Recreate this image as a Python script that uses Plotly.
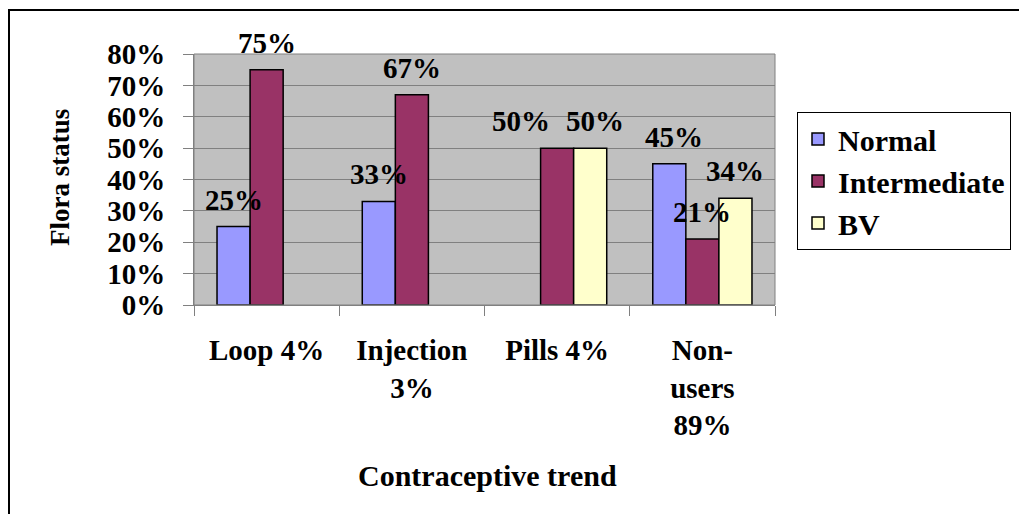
import plotly.graph_objects as go

categories = ["Loop 4%", "Injection<br>3%", "Pills 4%", "Non-<br>users<br>89%"]
normal = [0.25, 0.33, None, 0.45]
intermediate = [0.75, 0.67, 0.50, 0.21]
bv = [None, None, 0.50, 0.34]
series_names = ["Normal", "Intermediate", "BV"]
series_colors = ["#9999FF", "#993366", "#FFFFCC"]
y_ticks = [0, 0.1, 0.2, 0.3, 0.4, 0.5, 0.6, 0.7, 0.8]

FONT = "Liberation Serif"
OFF = 8  # page body margin
W, H = 1027 - OFF, 514 - OFF
L, T = 194 - OFF, 54 - OFF
R = W - (775 - OFF)
B = H - (305 - OFF)
pw, ph = W - L - R, H - T - B
BARGAP = 0.317

def px_x(px):
    return (px - OFF - L) / pw

def px_y(py):
    return (H - B - (py - OFF)) / ph

fig = go.Figure()
all_vals = [normal, intermediate, bv]
for name, vals, col in zip(series_names, all_vals, series_colors):
    fig.add_trace(go.Bar(
        x=categories, y=vals, name=name,
        marker=dict(color=col, line=dict(color="black", width=1.5)),
    ))

# data labels
bar_w = pw / len(categories) * (1 - BARGAP) / len(series_names)
label_nudge = {(1, 2): -36, (2, 2): 5, (0, 3): 5}
for si, vals in enumerate(all_vals):
    for ci, v in enumerate(vals):
        if v is None:
            continue
        fig.add_annotation(
            x=categories[ci], y=v, xref="x", yref="y",
            text=f"{round(v*100)}%", showarrow=False,
            xshift=(si - 1) * bar_w + label_nudge.get((si, ci), 0),
            yshift=27, xanchor="center", yanchor="middle",
            font=dict(family=FONT, size=29, color="black", weight="bold"),
        )

fig.update_layout(
    width=W, height=H,
    margin=dict(l=L, r=R, t=T, b=B, autoexpand=False),
    paper_bgcolor="white",
    plot_bgcolor="#C0C0C0",
    barmode="group",
    bargap=BARGAP,
    bargroupgap=0,
    showlegend=True,
    legend=dict(
        x=px_x(797), y=px_y(112), xanchor="left", yanchor="top",
        bordercolor="black", borderwidth=1, bgcolor="white",
        font=dict(family=FONT, size=30, color="black", weight="bold"),
        tracegroupgap=0,
    ),
    xaxis=dict(
        type="category",
        tickson="boundaries", ticks="outside", ticklen=10, tickcolor="#808080",
        showline=True, linecolor="#808080", linewidth=1,
        showgrid=False,
        tickfont=dict(family=FONT, size=29, color="black", weight="bold"),
        ticklabelstandoff=19,
        automargin=False,
    ),
    yaxis=dict(
        range=[0, 0.8], tickvals=y_ticks, tickformat=".0%",
        ticks="outside", ticklen=10, tickcolor="#808080",
        showgrid=True, gridcolor="#808080", gridwidth=1,
        showline=True, linecolor="#808080", linewidth=1,
        zeroline=False,
        tickfont=dict(family=FONT, size=29, color="black", weight="bold"),
        ticklabelstandoff=12,
        automargin=False,
    ),
)

# plot-area frame
fig.add_shape(type="rect", xref="paper", yref="paper", x0=0, x1=1, y0=0, y1=1,
              line=dict(color="#808080", width=1), layer="above")

# outer chart border
fig.add_shape(type="rect", xref="paper", yref="paper",
              x0=px_x(9), x1=px_x(1040), y0=px_y(540), y1=px_y(10),
              line=dict(color="black", width=2))

fig.add_annotation(text="Contraceptive trend", xref="paper", yref="paper",
                   x=px_x(487), y=px_y(476), showarrow=False,
                   xanchor="center", yanchor="middle",
                   font=dict(family=FONT, size=30, color="black", weight="bold"))
fig.add_annotation(text="Flora status", xref="paper", yref="paper",
                   x=px_x(60), y=px_y(178), showarrow=False, textangle=-90,
                   xanchor="center", yanchor="middle",
                   font=dict(family=FONT, size=27, color="black", weight="bold"))

fig.write_html("out.html")
